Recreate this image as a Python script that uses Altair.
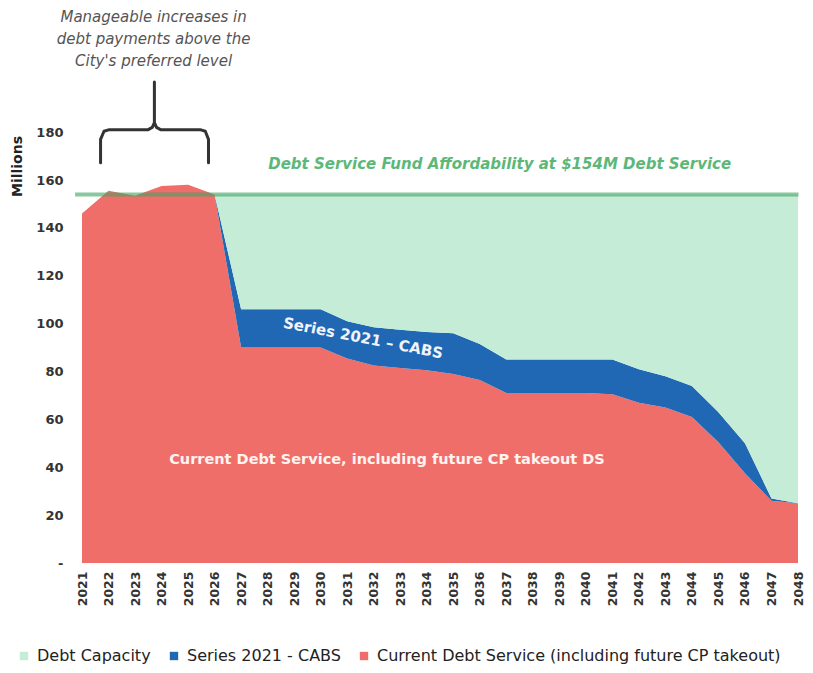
import altair as alt
import pandas as pd

# ---------------- data ----------------
years = list(range(2021, 2049))
current_ds = [146, 155.5, 153.5, 157.5, 158, 154, 90, 90, 90, 90, 85.5, 82.5, 81.5, 80.5,
              79, 76.5, 71, 71, 71, 71, 70.5, 67, 65, 61, 50.5, 37.5, 26, 25]
series_2021 = [0, 0, 0, 0, 0, 0, 16, 16, 16, 16, 15.5, 16, 16, 16,
               17, 15, 14, 14, 14, 14, 14.5, 14, 13, 13, 12.5, 12.5, 1, 0]
capacity = [0, 0, 0, 0, 0, 0, 48, 48, 48, 48, 53, 55.5, 56.5, 57.5,
            58, 62.5, 69, 69, 69, 69, 69, 73, 76, 80, 91, 104, 127, 129]
affordability = 154
afford_years = [2020.74, 2048.02]

series_names = ["Debt Capacity", "Series 2021 - CABS",
                "Current Debt Service (including future CP takeout)"]
series_colors = ["#c4ecd6", "#2068b4", "#f06e69"]
y_ticks = [0, 20, 40, 60, 80, 100, 120, 140, 160, 180]

note_lines = ["Manageable increases in", "debt payments above the", "City's preferred level"]
note_year = 2023.7
note_values = [228.2, 218.8, 209.6]

brace_years = [2021.7, 2021.7, 2021.83, 2022.0, 2023.48, 2023.65, 2023.73, 2023.73,
               2023.73, 2023.81, 2023.98, 2025.48, 2025.65, 2025.77, 2025.77]
brace_values = [167.2, 177, 180.4, 181, 181, 182, 184, 201,
                184, 182, 181, 181, 180.4, 177, 167.2]

# ---------------- tables ----------------
rows = []
for i, yr in enumerate(years):
    rows.append({"year": yr, "series": series_names[2], "value": current_ds[i], "k": 0})
    rows.append({"year": yr, "series": series_names[1], "value": series_2021[i], "k": 1})
    rows.append({"year": yr, "series": series_names[0], "value": capacity[i], "k": 2})
df = pd.DataFrame(rows)

xscale = alt.Scale(domain=[2021, 2048], nice=False, zero=False)
yscale = alt.Scale(domain=[0, 229.4], nice=False)

x_axis = alt.Axis(values=years, format="d", labelAngle=-90, domain=False, ticks=False,
                  grid=False, labelFont="DejaVu Sans", labelFontWeight="bold",
                  labelFontSize=12.5, labelColor="#333333", labelPadding=8, title=None)
y_axis = alt.Axis(values=y_ticks, labelExpr="datum.value == 0 ? '-' : datum.label",
                  domain=False, ticks=False, grid=False, labelFont="DejaVu Sans",
                  labelFontWeight="bold", labelFontSize=13, labelColor="#333333",
                  labelPadding=19, title="Millions", titleFont="DejaVu Sans",
                  titleFontSize=14, titleFontWeight="bold", titleColor="#222222",
                  titleAngle=-90, titleX=-65, titleY=152, titleAlign="center",
                  titleBaseline="middle")


def X():
    return alt.X("year:Q", scale=xscale, axis=x_axis)


def Y():
    return alt.Y("value:Q", scale=yscale, axis=y_axis, stack=None)


areas = alt.Chart(df).mark_area(interpolate="linear").encode(
    x=X(),
    y=alt.Y("value:Q", scale=yscale, axis=y_axis, stack="zero"),
    color=alt.Color("series:N", scale=alt.Scale(domain=series_names, range=series_colors),
                    legend=alt.Legend(orient="none", legendX=-66, legendY=634,
                                      direction="horizontal", title=None,
                                      symbolType="square", symbolSize=70,
                                      symbolStrokeWidth=0,
                                      labelFont="DejaVu Sans", labelFontSize=16,
                                      labelColor="#222222", labelLimit=600,
                                      columnPadding=15, labelOffset=5)),
    order=alt.Order("k:Q"),
)

line_df = pd.DataFrame({"year": afford_years, "value": [affordability] * len(afford_years)})
afford_line = alt.Chart(line_df).mark_line(color="#3aa560", strokeWidth=4, opacity=0.6,
                                           clip=False).encode(x=X(), y=Y())

texts_df = pd.DataFrame({
    "year": [2036.75],
    "value": [166.7],
    "t": ["Debt Service Fund Affordability at  $154M Debt Service"],
})
green_text = alt.Chart(texts_df).mark_text(
    font="DejaVu Sans", fontSize=15, fontWeight="bold", fontStyle="italic",
    color="#5cb878", align="center", baseline="middle").encode(x=X(), y=Y(), text="t:N")

red_df = pd.DataFrame({"year": [2032.5], "value": [43],
                       "t": ["Current Debt Service, including future CP takeout DS"]})
red_text = alt.Chart(red_df).mark_text(
    font="DejaVu Sans", fontSize=14.5, fontWeight="bold", color="#fff4f0",
    align="center", baseline="middle").encode(x=X(), y=Y(), text="t:N")

blue_df = pd.DataFrame({"year": [2031.6], "value": [94], "t": ["Series 2021 \u2013 CABS"]})
blue_text = alt.Chart(blue_df).mark_text(
    font="DejaVu Sans", fontSize=15, fontWeight="bold", color="#f2f4fa", angle=11,
    align="center", baseline="middle").encode(x=X(), y=Y(), text="t:N")

note_df = pd.DataFrame({"year": [note_year] * 3, "value": note_values, "t": note_lines})
note_text = alt.Chart(note_df).mark_text(
    font="DejaVu Sans", fontSize=15, fontStyle="italic", color="#555555",
    align="center", baseline="middle", clip=False).encode(x=X(), y=Y(), text="t:N")

brace_df = pd.DataFrame({"year": brace_years, "value": brace_values,
                         "i": list(range(len(brace_years)))})
brace = alt.Chart(brace_df).mark_line(color="#333333", strokeWidth=3, strokeJoin="round",
                                      strokeCap="round", clip=False).encode(
    x=X(), y=Y(), order=alt.Order("i:Q"))

chart = alt.layer(areas, afford_line, green_text, red_text, blue_text, note_text, brace).properties(
    width=716, height=549, background="white",
    padding={"left": 74, "top": 6, "right": 6, "bottom": 106},
    autosize=alt.AutoSizeParams(type="none"),
).configure_view(strokeWidth=0)

chart.save("out.html", embed_options={"renderer": "svg", "actions": False})
